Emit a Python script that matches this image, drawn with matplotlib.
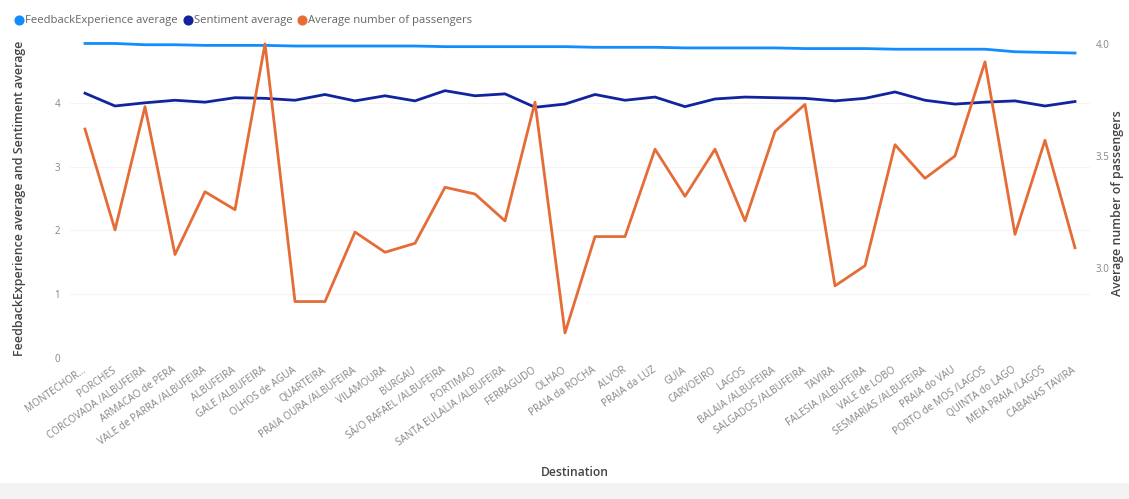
import matplotlib
matplotlib.use("Agg")
import matplotlib.pyplot as plt
from matplotlib.patches import Rectangle
from matplotlib.lines import Line2D

plt.rcParams["font.family"] = ["Open Sans", "DejaVu Sans"]

destinations = [
    "MONTECHOR...", "PORCHES", "CORCOVADA /ALBUFEIRA", "ARMACAO de PERA",
    "VALE de PARRA /ALBUFEIRA", "ALBUFEIRA", "GALE /ALBUFEIRA", "OLHOS de AGUA",
    "QUARTEIRA", "PRAIA OURA /ALBUFEIRA", "VILAMOURA", "BURGAU",
    "SÃ/O RAFAEL /ALBUFEIRA", "PORTIMAO", "SANTA EULALIA /ALBUFEIRA", "FERRAGUDO",
    "OLHAO", "PRAIA da ROCHA", "ALVOR", "PRAIA da LUZ", "GUIA", "CARVOEIRO",
    "LAGOS", "BALAIA /ALBUFEIRA", "SALGADOS /ALBUFEIRA", "TAVIRA",
    "FALESIA /ALBUFEIRA", "VALE de LOBO", "SESMARIAS /ALBUFEIRA", "PRAIA do VAU",
    "PORTO de MOS /LAGOS", "QUINTA do LAGO", "MEIA PRAIA /LAGOS", "CABANAS TAVIRA",
]

feedback_avg = [
    4.93, 4.93, 4.91, 4.91, 4.90, 4.90, 4.90, 4.89, 4.89, 4.89, 4.89, 4.89,
    4.88, 4.88, 4.88, 4.88, 4.88, 4.87, 4.87, 4.87, 4.86, 4.86, 4.86, 4.86,
    4.85, 4.85, 4.85, 4.84, 4.84, 4.84, 4.84, 4.80, 4.79, 4.78,
]

sentiment_avg = [
    4.15, 3.95, 4.00, 4.04, 4.01, 4.08, 4.07, 4.04, 4.13, 4.03, 4.11, 4.03,
    4.19, 4.11, 4.14, 3.93, 3.98, 4.13, 4.04, 4.09, 3.94, 4.06, 4.09, 4.08,
    4.07, 4.03, 4.07, 4.17, 4.04, 3.98, 4.01, 4.03, 3.95, 4.02,
]

passengers_avg = [
    3.62, 3.17, 3.72, 3.06, 3.34, 3.26, 4.00, 2.85, 2.85, 3.16, 3.07, 3.11,
    3.36, 3.33, 3.21, 3.74, 2.71, 3.14, 3.14, 3.53, 3.32, 3.53, 3.21, 3.61,
    3.73, 2.92, 3.01, 3.55, 3.40, 3.50, 3.92, 3.15, 3.57, 3.09,
]

left_ticks = [0, 1, 2, 3, 4]
right_ticks = [3.0, 3.5, 4.0]
right_tick_labels = ["3.0", "3.5", "4.0"]

C_FEEDBACK = "#118DFF"
C_SENTIMENT = "#12239E"
C_PASSENGERS = "#E66C37"
C_TICK = "#858585"
C_TITLE = "#444444"

W, H = 1129, 499
fig = plt.figure(figsize=(W / 100, H / 100), dpi=100)
fig.patch.set_facecolor("white")

# light footer band
fig.add_artist(Rectangle((0, 0), 1, 16 / H, transform=fig.transFigure,
                         facecolor="#f3f3f3", edgecolor="none", zorder=0))

ax = fig.add_axes([70 / W, 1 - 358 / H, 1020 / W, 319 / H])
ax2 = ax.twinx()

x = list(range(len(destinations)))

ax.plot(x, feedback_avg, color=C_FEEDBACK, lw=2.0, solid_joinstyle="round", zorder=3)
ax.plot(x, sentiment_avg, color=C_SENTIMENT, lw=2.0, solid_joinstyle="round", zorder=3)
ax2.plot(x, passengers_avg, color=C_PASSENGERS, lw=2.0, solid_joinstyle="round", zorder=3)

ax.set_xlim(-0.5, len(destinations) - 0.5)
ax.set_ylim(0, 5.0)
ax2.set_ylim(2.598, 4.022)

ax.set_yticks(left_ticks)
ax.set_yticklabels([str(t) for t in left_ticks])
ax2.set_yticks(right_ticks)
ax2.set_yticklabels(right_tick_labels)

for a in (ax, ax2):
    for s in a.spines.values():
        s.set_visible(False)
    a.tick_params(length=0, colors=C_TICK, labelsize=7)

ax.tick_params(axis="y", pad=7)
ax2.tick_params(axis="y", pad=4)
ax.grid(axis="y", color="#f4f4f4", lw=0.8)
ax.set_axisbelow(True)

ax.set_xticks(x)
ax.set_xticklabels(destinations, rotation=35, ha="right", va="center",
                   rotation_mode="anchor", fontsize=7.2, color=C_TICK)
ax.tick_params(axis="x", pad=8)

ax.set_xlabel("Destination", fontsize=8.7, color=C_TITLE, fontweight="semibold")
ax.xaxis.set_label_coords(0.495, -0.34)
ax.set_ylabel("FeedbackExperience average and Sentiment average", fontsize=8.9,
              color=C_TITLE, fontweight="semibold")
ax.yaxis.set_label_coords(-0.043, 0.5)
fig.text(1118 / W, 1 - 203 / H, "Average number of passengers", rotation=90,
         ha="center", va="center", fontsize=8.9, color=C_TITLE,
         fontweight="semibold")

handles = [
    Line2D([], [], marker="o", ls="none", color=C_FEEDBACK, markersize=6.3),
    Line2D([], [], marker="o", ls="none", color=C_SENTIMENT, markersize=6.3),
    Line2D([], [], marker="o", ls="none", color=C_PASSENGERS, markersize=6.3),
]
labels = ["FeedbackExperience average", "Sentiment average",
          "Average number of passengers"]
leg = fig.legend(handles, labels, loc="upper left", bbox_to_anchor=(0.008, 0.978),
                 ncol=3, frameon=False, fontsize=8.1, handletextpad=0.05,
                 columnspacing=0.35, handlelength=1.0, borderaxespad=0)
for t in leg.get_texts():
    t.set_color("#666666")

fig.savefig("out.png", dpi=100, facecolor="white")
